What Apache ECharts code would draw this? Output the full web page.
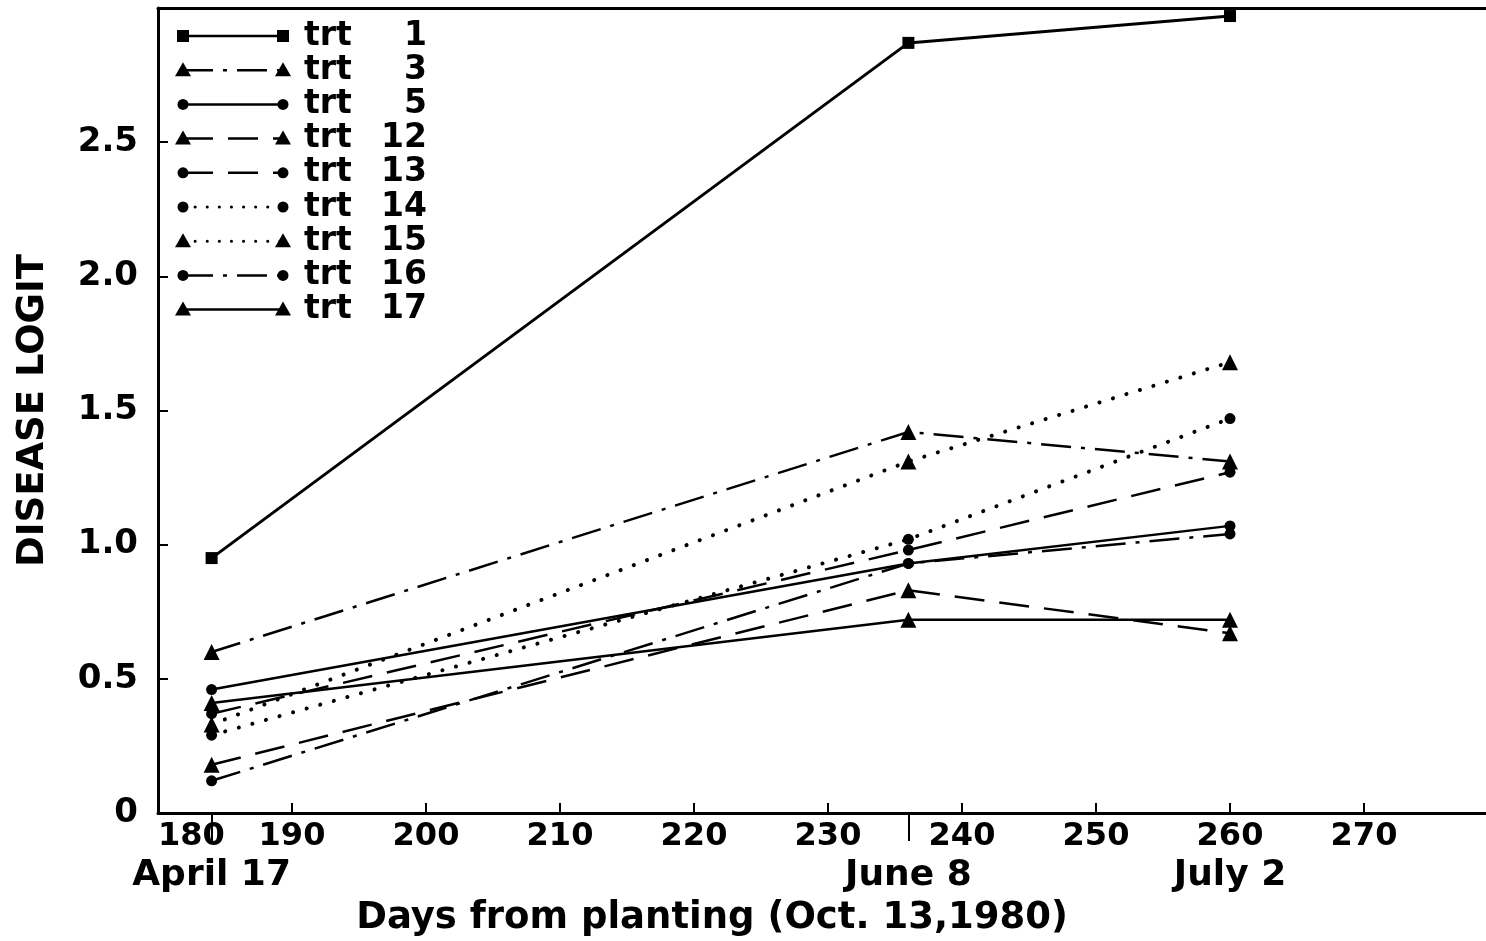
<!DOCTYPE html>
<html><head><meta charset="utf-8">
<script src="https://cdn.jsdelivr.net/npm/echarts@6/dist/echarts.min.js"></script>
<style>html,body{margin:0;padding:0;background:#fff}#c{width:1486px;height:941px}</style>
</head><body><div id="c"></div>
<script>
// ---- data ----
const days = [184, 236, 260];
const trtNames = ['1', '3', '5', '12', '13', '14', '15', '16', '17'];
const trt1  = [0.95, 2.87, 2.97];
const trt3  = [0.60, 1.42, 1.31];
const trt5  = [0.46, 0.93, 1.07];
const trt12 = [0.18, 0.83, 0.67];
const trt13 = [0.37, 0.98, 1.27];
const trt14 = [0.29, 1.02, 1.47];
const trt15 = [0.33, 1.31, 1.68];
const trt16 = [0.12, 0.93, 1.04];
const trt17 = [0.41, 0.72, 0.72];
const dateTickValues = [184, 236];
const dateLabelValues = [184, 236, 260];
const dateLabels = ['April 17', 'June 8', 'July 2'];
const xTitle = 'Days from planting (Oct. 13,1980)';
const yTitle = 'DISEASE LOGIT';

// ---- styles ----
const values = [trt1, trt3, trt5, trt12, trt13, trt14, trt15, trt16, trt17];
const DASHDOT = [30, 10, 4, 10];
const DASHED = [30, 15];
const DOTTED = [0.1, 14];
const styles = [
  {dash: 'solid', sym: 'rect'},
  {dash: DASHDOT, sym: 'triangle'},
  {dash: 'solid', sym: 'circle'},
  {dash: DASHED, sym: 'triangle'},
  {dash: DASHED, sym: 'circle'},
  {dash: DOTTED, sym: 'circle'},
  {dash: DOTTED, sym: 'triangle'},
  {dash: DASHDOT, sym: 'circle'},
  {dash: 'solid', sym: 'triangle'}
];
const symSize = {rect: 12, circle: 11, triangle: 16};
const FONT = 'DejaVu Sans';
const txt = {color: '#000', fontFamily: FONT, fontWeight: 'bold', fontSize: 32};

const series = values.map((vals, i) => {
  const st = styles[i];
  const dotted = st.dash === DOTTED;
  return {
    name: 'trt ' + trtNames[i],
    type: 'line',
    xAxisIndex: 0, yAxisIndex: 0,
    data: days.map((d, j) => [d, vals[j]]),
    symbol: st.sym,
    symbolSize: symSize[st.sym],
    showAllSymbol: true,
    lineStyle: {color: '#000', width: dotted ? 4 : (i === 0 ? 3 : 2.5), type: st.dash, cap: dotted ? 'round' : 'butt'},
    itemStyle: {color: '#000', borderWidth: 0},
    emphasis: {disabled: true},
    z: 3
  };
});

// ---- legend drawn as graphics ----
const graphics = [];
const lx1 = 183, lx2 = 283, ly0 = 36, lstep = 34.2;
function marker(sym, x, y) {
  const s = symSize[sym];
  if (sym === 'rect') return {type: 'rect', shape: {x: x - s / 2, y: y - s / 2, width: s, height: s}, style: {fill: '#000'}};
  if (sym === 'circle') return {type: 'circle', shape: {cx: x, cy: y, r: s / 2}, style: {fill: '#000'}};
  return {type: 'polygon', shape: {points: [[x, y - s / 2], [x + s / 2, y + s / 2 - 2], [x - s / 2, y + s / 2 - 2]]}, style: {fill: '#000'}};
}
styles.forEach((st, i) => {
  const y = ly0 + i * lstep;
  const dotted = st.dash === DOTTED;
  graphics.push({
    type: 'line', shape: {x1: lx1, y1: y, x2: lx2, y2: y},
    style: {stroke: '#000', lineWidth: dotted ? 3 : 2.5, lineDash: st.dash === 'solid' ? null : (dotted ? [0.1, 12] : st.dash), lineCap: dotted ? 'round' : 'butt'}
  });
  graphics.push(marker(st.sym, lx1, y));
  graphics.push(marker(st.sym, lx2, y));
  graphics.push({type: 'text', x: 304, y: y, style: {text: 'trt', fill: '#000', font: 'bold 33px "' + FONT + '"', textVerticalAlign: 'middle', textAlign: 'left'}});
  graphics.push({type: 'text', x: 427, y: y, style: {text: trtNames[i], fill: '#000', font: 'bold 33px "' + FONT + '"', textVerticalAlign: 'middle', textAlign: 'right'}});
});

const chart = echarts.init(document.getElementById('c'), null, {renderer: 'canvas'});
chart.setOption({
  animation: false,
  backgroundColor: '#fff',
  grid: {left: 158, right: -12, top: 8, bottom: 128, outerBoundsMode: 'none', containLabel: false},
  xAxis: [
    {
      type: 'value', min: 180, max: 280, interval: 10, position: 'bottom',
      axisLine: {show: true, lineStyle: {color: '#000', width: 3}},
      axisTick: {show: true, inside: true, length: 10, lineStyle: {color: '#000', width: 2}},
      axisLabel: Object.assign({margin: 8, showMaxLabel: false, alignMinLabel: 'left'}, txt),
      splitLine: {show: false},
      name: xTitle, nameLocation: 'middle', nameGap: 87,
      nameTextStyle: Object.assign({}, txt, {fontSize: 37, padding: [0, 232, 0, 0]})
    },
    {
      type: 'value', min: 180, max: 280, position: 'bottom',
      axisLine: {show: false},
      axisTick: {show: true, inside: false, length: 28, customValues: dateTickValues, lineStyle: {color: '#000', width: 2}},
      axisLabel: Object.assign({}, txt, {fontSize: 36, margin: 45, customValues: dateLabelValues,
        formatter: v => dateLabels[dateLabelValues.indexOf(v)]}),
      splitLine: {show: false}
    },
    {
      type: 'value', min: 180, max: 280, position: 'top',
      axisLine: {show: true, lineStyle: {color: '#000', width: 3}},
      axisTick: {show: false}, axisLabel: {show: false}, splitLine: {show: false}
    }
  ],
  yAxis: {
    type: 'value', min: 0, max: 3, interval: 0.5,
    axisLine: {show: true, lineStyle: {color: '#000', width: 3}},
    axisTick: {show: true, inside: true, length: 10, lineStyle: {color: '#000', width: 2}},
    axisLabel: Object.assign({}, txt, {fontSize: 34, margin: 20, showMaxLabel: false,
      formatter: v => v === 0 ? '0' : v.toFixed(1)}),
    splitLine: {show: false},
    name: yTitle, nameLocation: 'middle', nameGap: 106, nameRotate: 90,
    nameTextStyle: Object.assign({}, txt, {fontSize: 37})
  },
  series: series,
  graphic: graphics
});
</script>
</body></html>
